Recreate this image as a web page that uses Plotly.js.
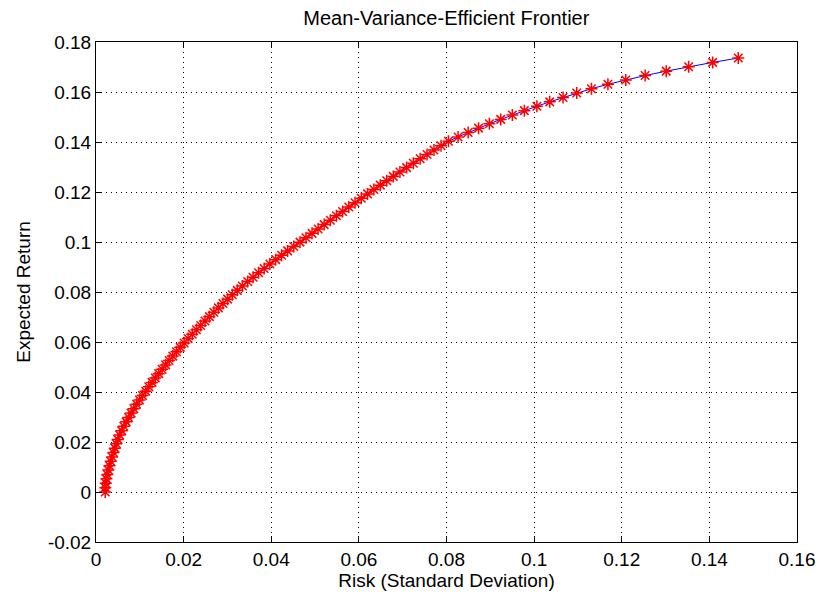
<!DOCTYPE html>
<html>
<head>
<meta charset="utf-8">
<script src="https://cdn.plot.ly/plotly-3.0.1.min.js"></script>
<style>html,body{margin:0;padding:0;background:#fff;}#chart{width:819px;height:596px;}</style>
</head>
<body>
<div id="chart"></div>
<script>
// Expected return of each frontier portfolio
var expectedReturn = [
0.00000,0.00175,0.00351,0.00526,0.00701,0.00877,0.01052,0.01227,0.01403,0.01578,
0.01754,0.01929,0.02104,0.02280,0.02455,0.02630,0.02806,0.02981,0.03156,0.03332,
0.03507,0.03682,0.03858,0.04033,0.04208,0.04384,0.04559,0.04734,0.04910,0.05085,
0.05260,0.05436,0.05611,0.05786,0.05962,0.06137,0.06313,0.06488,0.06663,0.06839,
0.07014,0.07189,0.07365,0.07540,0.07715,0.07891,0.08066,0.08241,0.08417,0.08592,
0.08768,0.08943,0.09118,0.09294,0.09469,0.09644,0.09820,0.09995,0.10170,0.10346,
0.10521,0.10696,0.10872,0.11047,0.11222,0.11398,0.11573,0.11748,0.11924,0.12099,
0.12275,0.12450,0.12625,0.12801,0.12976,0.13151,0.13327,0.13502,0.13677,0.13853,
0.14028,0.14203,0.14379,0.14554,0.14729,0.14905,0.15080,0.15255,0.15431,0.15606,
0.15782,0.15957,0.16132,0.16308,0.16483,0.16658,0.16834,0.17009,0.17184,0.17360];
// Risk (standard deviation) of each frontier portfolio
var risk = [
0.00210,0.00213,0.00223,0.00238,0.00258,0.00282,0.00308,0.00336,0.00367,0.00398,
0.00430,0.00464,0.00495,0.00539,0.00586,0.00636,0.00689,0.00744,0.00802,0.00863,
0.00926,0.00993,0.01062,0.01133,0.01205,0.01279,0.01354,0.01431,0.01509,0.01589,
0.01670,0.01753,0.01837,0.01923,0.02011,0.02102,0.02197,0.02292,0.02389,0.02488,
0.02588,0.02690,0.02793,0.02898,0.03004,0.03112,0.03224,0.03341,0.03462,0.03585,
0.03711,0.03838,0.03968,0.04101,0.04236,0.04373,0.04514,0.04656,0.04793,0.04931,
0.05069,0.05208,0.05348,0.05488,0.05628,0.05770,0.05912,0.06054,0.06198,0.06342,
0.06489,0.06636,0.06785,0.06937,0.07089,0.07243,0.07399,0.07556,0.07714,0.07875,
0.08044,0.08264,0.08494,0.08732,0.08979,0.09237,0.09503,0.09777,0.10063,0.10356,
0.10660,0.10972,0.11308,0.11684,0.12092,0.12534,0.13015,0.13527,0.14075,0.14660];

var xTickVals = [0,0.02,0.04,0.06,0.08,0.1,0.12,0.14,0.16];
var xTickText = ["0","0.02","0.04","0.06","0.08","0.1","0.12","0.14","0.16"];
var yTickVals = [-0.02,0,0.02,0.04,0.06,0.08,0.1,0.12,0.14,0.16,0.18];
var yTickText = ["-0.02","0","0.02","0.04","0.06","0.08","0.1","0.12","0.14","0.16","0.18"];

var FONT = '"Liberation Sans", Arial, sans-serif';

var trace = {
  x: risk, y: expectedReturn, type: 'scatter', mode: 'lines+markers',
  line: {color: '#0000ff', width: 1},
  marker: {symbol: 'asterisk-open', size: 10, color: '#ff0000', line: {color: '#ff0000', width: 1.5}},
  hoverinfo: 'x+y'
};

var axisCommon = {
  showline: true, linecolor: '#000', linewidth: 1, mirror: 'ticks',
  ticks: 'inside', ticklen: 6, tickcolor: '#000', tickwidth: 1,
  showgrid: true, gridcolor: '#000', gridwidth: 1, griddash: '1px,4px',
  zeroline: false, automargin: false,
  tickfont: {family: FONT, size: 19, color: '#000'},
  tickmode: 'array'
};

var layout = {
  width: 819, height: 596,
  margin: {l: 96, r: 22, t: 42, b: 54},
  paper_bgcolor: '#fff', plot_bgcolor: '#fff',
  showlegend: false,
  title: {text: 'Mean-Variance-Efficient Frontier', font: {family: FONT, size: 20, color: '#000'},
          x: 0.545, xanchor: 'center', y: 0.97, yanchor: 'middle'},
  xaxis: Object.assign({}, axisCommon, {
    range: [0, 0.16], tickvals: xTickVals, ticktext: xTickText,
    title: {text: 'Risk (Standard Deviation)', font: {family: FONT, size: 19, color: '#000'}, standoff: 2}
  }),
  yaxis: Object.assign({}, axisCommon, {
    range: [-0.02, 0.18], tickvals: yTickVals, ticktext: yTickText,
    title: {text: 'Expected Return', font: {family: FONT, size: 19, color: '#000'}, standoff: 12}
  })
};

Plotly.newPlot('chart', [trace], layout, {displayModeBar: false, staticPlot: true});
</script>
</body>
</html>
